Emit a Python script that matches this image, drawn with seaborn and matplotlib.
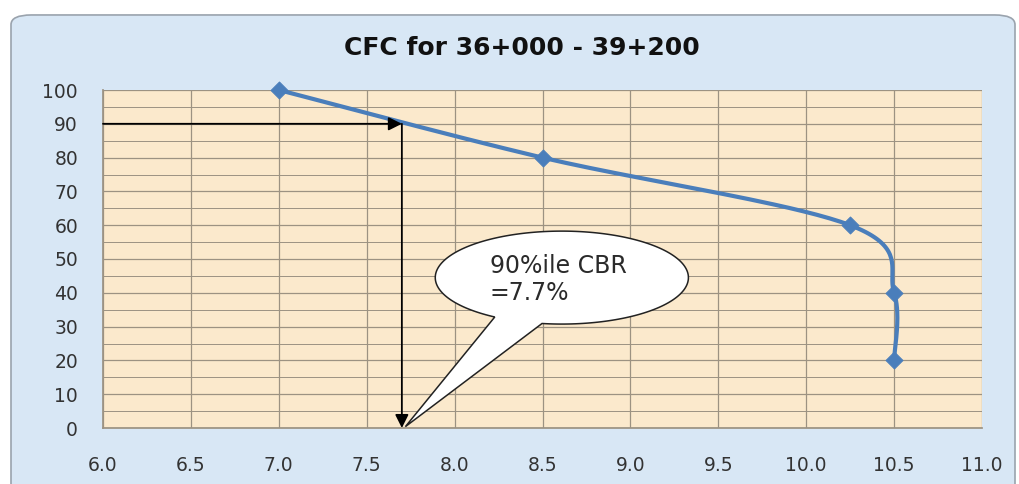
import numpy as np
import pandas as pd
import matplotlib
matplotlib.use("Agg")
import matplotlib.pyplot as plt
from matplotlib.patches import FancyBboxPatch, Polygon
import seaborn as sns

# Cumulative frequency curve of CBR values
cbr = [7.0, 8.5, 10.25, 10.5, 10.5]
pct_greater = [100, 80, 60, 40, 20]
cbr_90 = 7.7
pct_level = 90

title = "CFC for 36+000 - 39+200"
callout = "90%ile CBR\n=7.7%"
x_ticks = [6.0, 6.5, 7.0, 7.5, 8.0, 8.5, 9.0, 9.5, 10.0, 10.5, 11.0]
y_ticks = [0, 10, 20, 30, 40, 50, 60, 70, 80, 90, 100]

sns.set_theme(style="white")
plt.rcParams["font.family"] = ["DejaVu Sans"]

fig = plt.figure(figsize=(10.19, 4.84), dpi=100)
fig.patch.set_facecolor("white")

# chart frame with rounded corners
frame = FancyBboxPatch((11 / 1019, -0.05), 1004 / 1019, (484 - 14) / 484 + 0.05 - 0.002,
                       boxstyle="round,pad=0,rounding_size=0.02",
                       transform=fig.transFigure, facecolor="#d8e7f5",
                       edgecolor="#9aa3ad", linewidth=1.2, zorder=-1)
fig.patches.append(frame)

ax = fig.add_axes([103 / 1019, 1 - 428 / 484, (982 - 103) / 1019, (428 - 90) / 484])
ax.set_zorder(2)
ax.set_facecolor("#fbe9cc")
ax.set_xlim(6.0, 11.0)
ax.set_ylim(0, 100)
ax.set_xticks(x_ticks)
ax.set_yticks(y_ticks)
ax.set_yticks(np.arange(5, 100, 10), minor=True)
ax.set_xticklabels([f"{v:.1f}" for v in x_ticks])
ax.set_yticklabels([str(v) for v in y_ticks])
ax.grid(True, which="major", color="#9c9282", linewidth=0.9)
ax.grid(True, which="minor", axis="y", color="#9c9282", linewidth=0.7)
ax.set_axisbelow(True)
for side in ["top", "right"]:
    ax.spines[side].set_visible(False)
ax.spines["left"].set_color("#9c9282")
ax.spines["bottom"].set_color("#9c9282")
ax.tick_params(axis="both", which="major", length=6, color="#9c9282",
               labelsize=13.5, labelcolor="#333333", width=0.9)
ax.tick_params(axis="x", pad=14)
ax.tick_params(axis="y", pad=12)
ax.tick_params(which="minor", length=0)

# smooth curve through the points (Catmull-Rom style Bezier segments)
pts = np.column_stack([cbr, pct_greater]).astype(float)
ext = np.vstack([pts[0], pts, pts[-1]])
curve = []
t = np.linspace(0, 1, 40)
for i in range(1, len(ext) - 2):
    p0, p1, p2, p3 = ext[i - 1], ext[i], ext[i + 1], ext[i + 2]
    c1 = p1 + (p2 - p0) / 6
    c2 = p2 - (p3 - p1) / 6
    seg = ((1 - t) ** 3)[:, None] * p1 + (3 * (1 - t) ** 2 * t)[:, None] * c1 \
        + (3 * (1 - t) * t ** 2)[:, None] * c2 + (t ** 3)[:, None] * p2
    curve.append(seg)
curve = np.vstack(curve)
curve_df = pd.DataFrame({"CBR": curve[:, 0], "pct": curve[:, 1]})
sns.lineplot(data=curve_df, x="CBR", y="pct", sort=False, estimator=None,
             color="#4a7ebb", linewidth=3, ax=ax, zorder=3)
pts_df = pd.DataFrame({"CBR": cbr, "pct": pct_greater})
sns.scatterplot(data=pts_df, x="CBR", y="pct", marker="D", s=75,
                color="#4a7ebb", edgecolor="#4a7ebb", ax=ax, zorder=4, clip_on=False)
ax.set_xlabel("")
ax.set_ylabel("")

# 90th percentile construction lines
ax.annotate("", xy=(cbr_90, pct_level), xytext=(6.0, pct_level),
            arrowprops=dict(arrowstyle="-|>", color="black", lw=1.3,
                            mutation_scale=20, shrinkA=0, shrinkB=0), zorder=5)
ax.annotate("", xy=(cbr_90, 0), xytext=(cbr_90, pct_level),
            arrowprops=dict(arrowstyle="-|>", color="black", lw=1.3,
                            mutation_scale=20, shrinkA=0, shrinkB=0), zorder=5)

# callout bubble: ellipse outline with a pointer to the percentile value
cx, cy, a, b = 8.61, 44.5, 0.72, 13.75
theta = np.radians(np.linspace(261, 238 + 360, 200))
outline = np.column_stack([cx + a * np.cos(theta), cy + b * np.sin(theta)])
outline = np.vstack([outline, [cbr_90 + 0.02, 0.4]])
bubble = Polygon(outline, closed=True, facecolor="white", edgecolor="#222222",
                 linewidth=1.1, zorder=6)
ax.add_patch(bubble)
ax.text(8.2, 44.0, callout, fontsize=17, color="#2a2a2a", ha="left",
        va="center", linespacing=1.15, zorder=7)

fig.text(522 / 1019, 1 - 48 / 484, title, ha="center", va="center",
         fontsize=18, fontweight="bold", color="#111111")

fig.savefig("out.png", dpi=100)
